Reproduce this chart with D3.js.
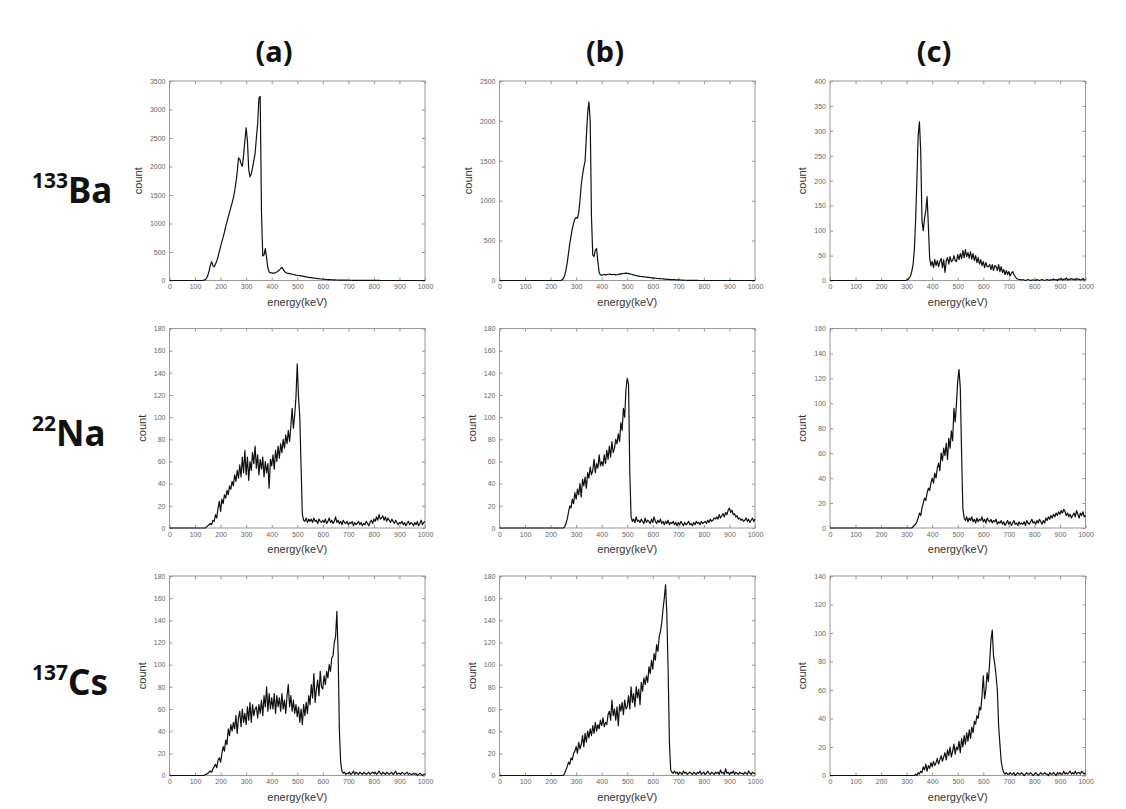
<!DOCTYPE html>
<html><head><meta charset="utf-8">
<script src="https://cdn.jsdelivr.net/npm/d3@7"></script>
<style>body{margin:0;background:#fff}</style></head>
<body><svg id="c" width="1126" height="809"></svg>
<script>
// energy grid (keV), one sample every 5 keV
const energy = d3.range(0, 1001, 5);
const xTicks = [0,100,200,300,400,500,600,700,800,900,1000];
const columns = ["(a)", "(b)", "(c)"];
const isotopes = [{mass:"133", el:"Ba"}, {mass:"22", el:"Na"}, {mass:"137", el:"Cs"}];
const yMax  = [[3500, 2500, 400], [180, 180, 160], [180, 180, 140]];
const yStep = [[500, 500, 50], [20, 20, 20], [20, 20, 20]];

const baA = [
0,0,0,0,0,0,0,0,0,0,
0,0,0,0,0,0,0,0,0,0,
0,0,0,0,0,0,2,5,15,40,
90,170,270,330,260,240,290,340,420,510,
600,680,760,850,950,1030,1120,1200,1280,1360,
1450,1570,1720,1900,2150,2130,2050,2000,2200,2450,
2680,2450,1950,1820,1870,1980,2100,2230,2500,2750,
3200,3230,1200,430,450,560,400,220,150,135,
135,130,130,140,150,165,185,210,230,195,
160,140,130,125,120,115,110,105,100,95,
92,88,84,80,76,72,68,64,60,56,
52,49,46,43,40,37,34,31,28,26,
24,22,20,18,16,15,14,13,12,11,
10,9,8,8,7,7,6,6,5,5,
4,4,4,3,3,3,3,2,2,2,
2,2,2,2,1,1,1,1,1,1,
1,1,1,1,1,0,0,0,0,0,
0,0,0,0,0,0,0,0,0,0,
0,0,0,0,0,0,0,0,0,0,
0,0,0,0,0,0,0,0,0,0,
0];
const baB = [
0,0,0,0,0,0,0,0,0,0,
0,0,0,0,0,0,0,0,0,0,
0,0,0,0,0,0,0,0,0,0,
0,0,0,0,0,0,0,0,0,0,
0,0,0,0,0,0,0,0,2,8,
25,60,130,220,340,460,560,650,720,770,
790,780,850,1000,1200,1320,1420,1500,1800,2100,
2240,2000,800,320,300,380,400,240,100,70,
68,72,75,70,74,78,80,76,72,78,
74,70,72,76,80,84,86,88,90,92,
90,86,82,78,74,70,66,62,58,55,
52,50,48,46,44,42,40,38,36,34,
32,30,28,26,25,24,23,22,20,18,
17,15,14,13,12,11,10,10,9,8,
8,7,6,5,4,3,3,2,2,2,
1,1,1,1,1,1,0,0,0,0,
0,0,0,0,0,0,0,0,0,0,
0,0,0,0,0,0,0,0,0,0,
0,0,0,0,0,0,0,0,0,0,
0,0,0,0,0,0,0,0,0,0,
0];
const baC = [
0,0,0,0,0,0,0,0,0,0,
0,0,0,0,0,0,0,0,0,0,
0,0,0,0,0,0,0,0,0,0,
0,0,0,0,0,0,0,0,0,0,
0,0,0,0,0,0,0,0,0,0,
0,0,0,0,0,0,0,0,0,0,
1,2,5,9,18,32,60,120,200,290,
318,260,120,100,125,140,168,110,45,30,
38,26,42,30,40,28,38,44,26,42,
16,40,46,33,48,38,40,50,40,38,
52,42,54,44,60,46,62,48,56,45,
58,43,54,40,50,36,46,33,42,30,
38,26,36,28,28,32,22,32,20,30,
28,20,32,18,28,16,22,12,20,12,
18,9,15,18,12,8,4,3,2,2,
1,2,1,0,1,2,1,0,1,1,
1,0,2,1,0,1,2,1,0,1,
2,1,0,2,1,3,1,2,0,3,
2,4,1,3,2,5,1,3,2,4,
2,3,1,4,2,3,1,2,4,1,
2];
const naA = [
0,0,0,0,0,0,0,0,0,0,
0,0,0,0,0,0,0,0,0,0,
0,0,0,0,0,0,0,0,0,1,
2,3,4,3,7,6,12,9,18,24,
15,26,22,30,27,34,30,38,35,42,
38,48,42,52,45,57,46,64,50,70,
48,64,43,60,52,68,58,74,54,66,
48,62,53,64,46,60,50,58,36,62,
56,66,53,70,60,74,63,76,68,80,
72,84,76,88,78,92,108,90,102,118,
148,118,100,55,12,7,6,9,5,8,
6,8,5,9,6,7,4,8,6,5,
7,5,8,4,6,9,5,7,4,6,
10,5,7,4,6,3,7,5,4,6,
3,5,4,6,2,5,3,4,6,3,
5,2,4,3,6,4,2,5,7,4,
8,6,10,7,12,8,9,11,7,10,
6,9,7,5,8,6,4,7,5,3,
5,4,6,3,5,2,4,6,3,5,
4,2,5,3,6,2,4,7,3,5,
6];
const naB = [
0,0,0,0,0,0,0,0,0,0,
0,0,0,0,0,0,0,0,0,0,
0,0,0,0,0,0,0,0,0,0,
0,0,0,0,0,0,0,0,0,0,
0,0,0,0,0,0,0,0,0,0,
0,1,4,8,14,20,18,26,22,32,
26,35,30,40,28,44,38,46,36,50,
45,55,48,52,62,50,58,54,66,56,
60,56,66,58,70,62,74,64,78,68,
72,80,76,85,78,95,88,108,100,125,
135,130,50,10,6,8,5,10,6,7,
5,8,6,4,9,5,7,6,4,8,
5,10,6,4,7,5,8,4,6,3,
6,4,7,3,5,4,6,3,5,2,
5,3,6,4,2,5,3,4,6,3,
4,2,5,3,6,4,5,3,6,4,
5,6,4,7,5,8,6,7,9,8,
10,8,12,9,11,13,10,14,12,16,
18,14,16,12,13,10,11,8,9,7,
8,6,7,9,6,8,5,7,9,6,
8];
const naC = [
0,0,0,0,0,0,0,0,0,0,
0,0,0,0,0,0,0,0,0,0,
0,0,0,0,0,0,0,0,0,0,
0,0,0,0,0,0,0,0,0,0,
0,0,0,0,0,0,0,0,0,0,
0,0,0,0,0,0,0,0,0,0,
0,0,0,0,0,1,2,3,5,8,
12,10,16,20,24,22,28,32,30,36,
40,36,44,40,48,52,46,60,54,64,
58,68,55,72,64,78,70,96,85,100,
118,127,112,60,16,8,6,9,5,8,
6,9,5,7,4,8,5,7,6,9,
5,7,4,8,6,5,7,4,6,5,
7,3,5,4,6,3,5,2,4,6,
3,5,2,4,6,3,4,2,5,3,
4,3,5,2,6,4,3,5,7,4,
5,3,6,4,7,5,3,6,4,8,
6,9,7,10,8,11,9,12,10,13,
11,14,12,15,13,10,12,9,11,8,
10,12,9,14,11,8,12,10,13,9,
10];
const csA = [
0,0,0,0,0,0,0,0,0,0,
0,0,0,0,0,0,0,0,0,0,
0,0,0,0,0,0,0,0,1,1,
2,3,4,3,6,8,10,7,14,16,
12,20,26,22,32,28,42,36,46,40,
48,42,54,38,52,58,44,60,48,56,
46,62,50,66,48,64,54,60,62,52,
64,56,68,54,72,62,80,58,74,60,
70,60,74,56,72,62,70,58,74,60,
68,56,72,82,62,72,58,68,56,64,
53,62,48,60,46,64,54,66,56,72,
64,82,70,92,66,78,86,72,94,80,
78,90,82,94,88,100,94,106,108,120,
125,148,110,40,12,4,2,3,1,2,
2,3,1,2,4,1,3,2,1,3,
2,1,3,2,1,2,3,1,2,3,
2,3,1,2,4,2,1,3,2,1,
3,2,1,2,3,1,2,4,1,2,
2,1,3,2,1,2,3,1,2,1,
1,2,1,2,0,1,2,1,0,1,
1];
const csB = [
0,0,0,0,0,0,0,0,0,0,
0,0,0,0,0,0,0,0,0,0,
0,0,0,0,0,0,0,0,0,0,
0,0,0,0,0,0,0,0,0,0,
0,0,0,0,0,0,0,0,0,0,
0,2,5,8,12,10,16,14,20,22,
26,20,30,24,28,36,26,38,30,40,
34,42,36,45,38,48,40,46,42,50,
45,52,44,48,46,55,58,50,68,54,
60,50,62,45,64,58,66,55,68,60,
62,72,60,80,66,74,62,80,70,78,
64,84,76,88,82,90,84,98,92,104,
96,110,104,118,112,125,130,138,150,160,
172,145,95,30,5,3,2,4,2,3,
1,3,2,1,4,2,3,1,2,3,
2,1,3,2,1,3,2,4,1,2,
3,1,2,4,2,1,3,2,1,3,
2,3,1,5,2,3,1,6,2,3,
1,3,2,4,1,3,2,1,3,2,
2,1,3,2,1,4,2,1,3,2,
2];
const csC = [
0,0,0,0,0,0,0,0,0,0,
0,0,0,0,0,0,0,0,0,0,
0,0,0,0,0,0,0,0,0,0,
0,0,0,0,0,0,0,0,0,0,
0,0,0,0,0,0,0,0,0,0,
0,0,0,0,0,0,0,0,0,0,
0,0,0,0,0,0,0,1,0,2,
1,3,2,6,4,8,3,7,5,9,
6,10,7,9,12,8,11,14,10,13,
16,11,18,14,20,13,17,22,15,20,
18,24,16,26,20,28,22,30,24,32,
26,34,30,38,36,42,40,48,46,56,
70,54,60,72,66,80,95,102,84,78,
70,60,35,22,10,5,2,1,2,1,
1,2,1,1,2,0,1,2,1,1,
2,1,0,1,2,1,1,2,1,0,
1,2,1,0,1,2,1,1,2,1,
1,0,2,1,1,2,1,0,2,1,
2,1,1,3,1,2,1,2,3,1,
2,1,3,1,2,2,1,3,2,1,
2];

const spectra = [[baA, baB, baC], [naA, naB, naC], [csA, csB, csC]];

// ---------- layout ----------
const svg = d3.select("#c");
const colX = [169.5, 499.5, 830];
const rowY = [81, 328.5, 576];
const W = 255.5, H = 199.5;
const tickFont = "Liberation Sans, Arial, sans-serif";
const fmt = d3.format("d");

spectra.forEach((row, r) => {
  row.forEach((vals, c) => {
    const x0 = colX[c], y0 = rowY[r];
    const x = d3.scaleLinear().domain([0, 1000]).range([x0, x0 + W]);
    const y = d3.scaleLinear().domain([0, yMax[r][c]]).range([y0 + H, y0]);
    const yT = d3.range(0, yMax[r][c] + 1, yStep[r][c]);
    const g = svg.append("g");

    const gx = g.append("g").attr("transform", `translate(0,${y0 + H})`)
      .call(d3.axisBottom(x).tickValues(xTicks).tickFormat(fmt).tickSizeInner(-3).tickSizeOuter(0).tickPadding(4));
    const gxt = g.append("g").attr("transform", `translate(0,${y0})`)
      .call(d3.axisTop(x).tickValues(xTicks).tickSizeInner(-3).tickSizeOuter(0).tickFormat(""));
    const gy = g.append("g").attr("transform", `translate(${x0},0)`)
      .call(d3.axisLeft(y).tickValues(yT).tickFormat(fmt).tickSizeInner(-3).tickSizeOuter(0).tickPadding(4));
    const gyr = g.append("g").attr("transform", `translate(${x0 + W},0)`)
      .call(d3.axisRight(y).tickValues(yT).tickSizeInner(-3).tickSizeOuter(0).tickFormat(""));
    [gx, gxt, gy, gyr].forEach(a => {
      a.select(".domain").remove();
      a.selectAll("line").attr("stroke", "#777").attr("stroke-width", 0.8);
      a.selectAll("text").attr("font-family", tickFont).attr("font-size", 7).attr("fill", "#666");
    });

    g.append("rect").attr("x", x0).attr("y", y0).attr("width", W).attr("height", H)
      .attr("fill", "none").attr("stroke", "#999").attr("stroke-width", 1);

    const line = d3.line().x((d, i) => x(energy[i])).y(d => y(d));
    g.append("path").datum(vals).attr("d", line)
      .attr("fill", "none").attr("stroke", "#111").attr("stroke-width", 1.2)
      .attr("stroke-linejoin", "round");

    let maxW = 0;
    gy.selectAll("text").each(function(){ maxW = Math.max(maxW, this.getComputedTextLength()); });
    g.append("text").attr("transform", `translate(${x0 - 4 - maxW - 8},${y0 + H / 2}) rotate(-90)`)
      .attr("text-anchor", "middle").attr("font-family", tickFont).attr("font-size", 11)
      .attr("fill", "#333").text("count");
    g.append("text").attr("x", x0 + W / 2).attr("y", y0 + H + 25)
      .attr("text-anchor", "middle").attr("font-family", tickFont).attr("font-size", 11)
      .attr("fill", "#333").text("energy(keV)");
  });
});

// column titles
const titleX = [274, 605, 934];
columns.forEach((t, i) => {
  svg.append("text").attr("x", titleX[i]).attr("y", 62).attr("text-anchor", "middle")
    .attr("font-family", "Noto Sans, sans-serif").attr("font-weight", "bold")
    .attr("font-size", 29).attr("fill", "#111").text(t);
});

// row labels
const rowBase = [203, 446, 695];
isotopes.forEach((iso, i) => {
  const t = svg.append("text").attr("x", 32).attr("y", rowBase[i])
    .attr("font-family", "Noto Sans, sans-serif").attr("font-weight", "bold").attr("fill", "#111");
  t.append("tspan").attr("font-size", 21).attr("dy", -15).text(iso.mass);
  t.append("tspan").attr("font-size", 35).attr("dy", 15).text(iso.el);
});
</script></body></html>
